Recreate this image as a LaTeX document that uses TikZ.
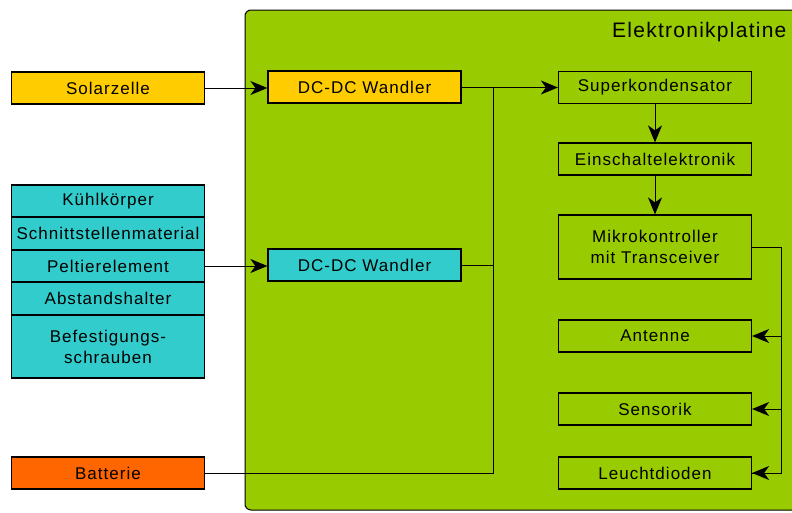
\documentclass[tikz,border=0pt]{standalone}
\usepackage{fontspec}
\setmainfont{Liberation Sans}[LetterSpace=6]
\usetikzlibrary{arrows.meta}
\definecolor{platine}{HTML}{99CC00}
\definecolor{solar}{HTML}{FFCC00}
\definecolor{peltier}{HTML}{33CCCC}
\definecolor{batt}{HTML}{FF6600}
\begin{document}
\begin{tikzpicture}[x=1pt,y=-1pt,
    block/.style={draw=black,line width=1.2pt,minimum width=193pt,minimum height=32pt,
        inner sep=0pt,align=center,font=\fontsize{17}{21}\selectfont},
    arr/.style={line width=1pt,-{Stealth[length=17pt,width=14pt,inset=5pt]}},
    wire/.style={line width=1pt}]
    \clip (0,0) rectangle (792,512);
    \useasboundingbox (0,0) rectangle (792,512);
    % Platine
    \draw [fill=platine,line width=1pt,rounded corners=6pt] (245,10) rectangle (820,510);
    \node [anchor=base east,font=\fontsize{21}{25}\selectfont] (titel) at (790,37) {Elektronikplatine};
    % Quellen
    \node [block,fill=solar] (solar) at (108,88) {Solarzelle};
    \node [block,fill=peltier] (kuehl) at (108,201) {Kühlkörper};
    \node [block,fill=peltier] (schnitt) at (108,233.5) {Schnittstellenmaterial};
    \node [block,fill=peltier] (pelt) at (108,266) {Peltierelement};
    \node [block,fill=peltier] (abst) at (108,298.5) {Abstandshalter};
    \node [block,fill=peltier,minimum height=63pt,text width=190pt] (befest) at (108,346.5) {Befestigungs-\\schrauben};
    \node [block,fill=batt] (batt) at (108,473) {Batterie};
    % Wandler
    \node [block,fill=solar] (dc1) at (364.5,87) {DC-DC Wandler};
    \node [block,fill=peltier] (dc2) at (364.5,265) {DC-DC Wandler};
    % Platine
    \node [block] (superk) at (655,87.5) {Superkondensator};
    \node [block] (einsch) at (655,159) {Einschaltelektronik};
    \node [block,minimum height=64pt,text width=190pt] (mikro) at (655,247) {Mikrokontroller\\mit Transceiver};
    \node [block] (antenne) at (655,336) {Antenne};
    \node [block] (sensor) at (655,409) {Sensorik};
    \node [block] (leds) at (655,473) {Leuchtdioden};
    % Verbindungen
    \coordinate (junc) at (493,87.5);
    \coordinate (rbus) at (781,247);
    \draw [arr] (solar.east) -- (dc1.west |- solar.east);
    \draw [arr] (pelt.east) -- (dc2.west |- pelt.east);
    \draw [arr] (dc1.east |- junc) -- (superk.west);
    \draw [wire] (batt.east) -| (junc);
    \draw [wire] (dc2.east) -- (dc2.east -| junc);
    \draw [arr] (superk) -- (einsch);
    \draw [arr] (einsch) -- (mikro);
    \draw [wire] (mikro.east) -- (rbus) |- (leds.east);
    \draw [arr] (rbus |- leds.east) -- (leds.east);
    \draw [arr] (rbus |- antenne.east) -- (antenne.east);
    \draw [arr] (rbus |- sensor.east) -- (sensor.east);
\end{tikzpicture}
\end{document}
